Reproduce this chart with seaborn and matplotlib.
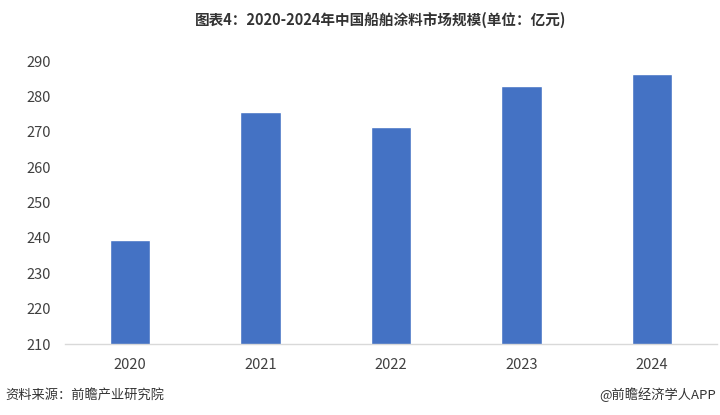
import matplotlib
matplotlib.use("Agg")
import matplotlib.pyplot as plt
import seaborn as sns
import pandas as pd

years = ["2020", "2021", "2022", "2023", "2024"]
values = [239.4, 275.6, 271.4, 283.0, 286.2]
yticks = [210, 220, 230, 240, 250, 260, 270, 280, 290]

sns.set_theme(style="white")
plt.rcParams['font.family'] = ['Noto Sans CJK SC', 'DejaVu Sans']

df = pd.DataFrame({"year": years, "value": values})

fig = plt.figure(figsize=(7.2, 4.15), dpi=100)
ax = fig.add_axes([65/720, 1-344/415, (717-65)/720, (344-61)/415])
sns.barplot(data=df, x="year", y="value", color="#4472C4", width=0.31,
            saturation=1, ax=ax)
ax.set_ylim(210, 290)
ax.set_yticks(yticks)
ax.set_xlim(-0.5, 4.5)
ax.set_xlabel("")
ax.set_ylabel("")
for s in ["top", "right", "left"]:
    ax.spines[s].set_visible(False)
ax.spines["bottom"].set_color("#d9d9d9")
ax.spines["bottom"].set_linewidth(1)
ax.tick_params(axis="both", length=0, labelsize=10.5, colors="#404040")
ax.tick_params(axis="x", pad=10)
ax.tick_params(axis="y", pad=28)
for lbl in ax.get_yticklabels():
    lbl.set_horizontalalignment("left")
ax.patch.set_alpha(0)

fig.text(381/720, 1-20/415, "图表4：2020-2024年中国船舶涂料市场规模(单位：亿元)",
         ha="center", va="center", fontsize=10.5, fontweight="bold", color="#333333")
fig.text(5/720, 1-395/415, "资料来源：前瞻产业研究院", ha="left", va="center",
         fontsize=9.5, color="#333333")
fig.text(716/720, 1-395/415, "@前瞻经济学人APP", ha="right", va="center",
         fontsize=9.5, color="#333333")

fig.savefig("out.png", dpi=100)
